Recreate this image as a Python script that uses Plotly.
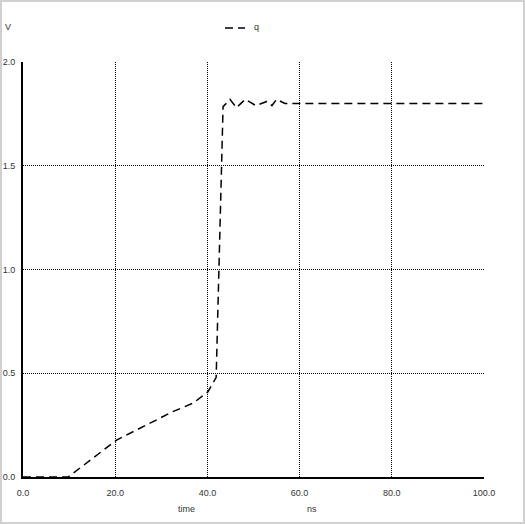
import plotly.graph_objects as go

time_ns = [0, 5, 9.8, 20.3, 28.2, 32.5, 36.9, 40.1, 41.9, 43.4, 44.9, 46.3, 48.2, 50.5, 52.9, 54.0, 55.0, 56.8, 60, 70, 80, 90, 100]
q_v = [0, 0, 0, 0.178, 0.266, 0.315, 0.356, 0.41, 0.48, 1.785, 1.82, 1.78, 1.82, 1.79, 1.81, 1.79, 1.82, 1.80, 1.80, 1.80, 1.80, 1.80, 1.80]

x_ticks = [0, 20, 40, 60, 80, 100]
x_tick_text = ["0.0", "20.0", "40.0", "60.0", "80.0", "100.0"]
y_ticks = [0, 0.5, 1.0, 1.5, 2.0]
y_tick_text = ["0.0", "0.5", "1.0", "1.5", "2.0"]

fig = go.Figure()
fig.add_trace(go.Scatter(x=time_ns, y=q_v, mode="lines", name="q", showlegend=False,
                         line=dict(color="black", width=1.5, dash="8px,5px")))

font = dict(family="Liberation Sans, Arial, sans-serif", size=9, color="#333")
PW, PH = 461, 415
fig.update_layout(
    width=525, height=524,
    margin=dict(l=23, r=41, t=62, b=47, autoexpand=False),
    paper_bgcolor="white", plot_bgcolor="white",
    font=font,
    showlegend=False,
    xaxis=dict(range=[0, 100], tickvals=x_ticks, ticktext=x_tick_text, automargin=False,
               showgrid=True, gridcolor="black", gridwidth=1, griddash="1px,1px",
               showline=True, linecolor="black", linewidth=2, zeroline=False,
               ticks="", ticklabelstandoff=6),
    yaxis=dict(range=[0, 2], tickvals=y_ticks, ticktext=y_tick_text, automargin=False,
               showgrid=True, gridcolor="black", gridwidth=1, griddash="1px,1px",
               showline=True, linecolor="black", linewidth=2, zeroline=False,
               ticks="", ticklabelstandoff=4),
    annotations=[
        dict(text="V", xref="paper", yref="paper", x=-20/PW, y=1 + 35/PH,
             xanchor="left", yanchor="middle", showarrow=False, font=font),
        dict(text="q", xref="paper", yref="paper", x=(252 - 23)/PW, y=1 + 35/PH,
             xanchor="left", yanchor="middle", showarrow=False, font=font),
        dict(text="time", xref="paper", yref="paper", x=(186 - 23)/PW, y=-32/PH,
             xanchor="center", yanchor="middle", showarrow=False, font=font),
        dict(text="ns", xref="paper", yref="paper", x=(312 - 23)/PW, y=-32/PH,
             xanchor="center", yanchor="middle", showarrow=False, font=font),
    ],
    shapes=[
        dict(type="rect", xref="paper", yref="paper",
             x0=-22/PW, x1=1 + 40/PW, y0=-46/PH, y1=1 + 61/PH,
             line=dict(color="#d0d0d0", width=2), layer="below"),
        dict(type="line", xref="paper", yref="paper",
             x0=(225 - 23)/PW, x1=(245 - 23)/PW, y0=1 + 34/PH, y1=1 + 34/PH,
             line=dict(color="black", width=1.5, dash="8px,5px")),
    ],
)

fig.write_html("out.html", config={"displayModeBar": False},
               post_script="document.body.style.margin='0';")
